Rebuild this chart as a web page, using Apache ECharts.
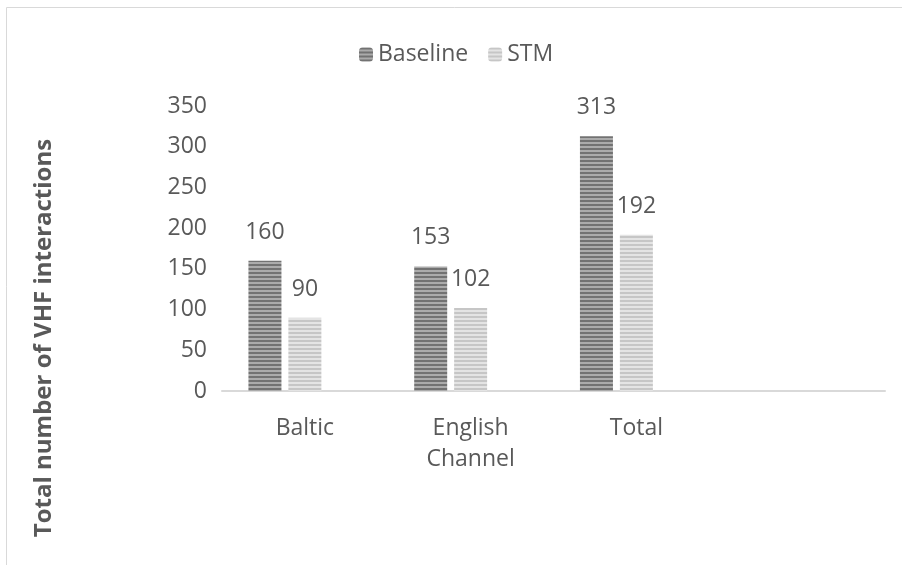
<!DOCTYPE html>
<html>
<head>
<meta charset="utf-8">
<script src="https://cdn.jsdelivr.net/npm/echarts@6/dist/echarts.min.js"></script>
<style>html,body{margin:0;padding:0;background:#fff}#c{width:902px;height:565px}</style>
</head>
<body>
<div id="c"></div>
<script>
const categories = ['Baltic', 'English\nChannel', 'Total', ''];
const baselineValues = [160, 153, 313, null];
const stmValues = [90, 102, 192, null];
const spacerValues = [null, null, null, null];
const seriesNames = ['Baseline', 'STM'];
const yTitle = 'Total number of VHF interactions';

function stripe(c1, c2) {
  const cv = document.createElement('canvas');
  cv.width = 4; cv.height = 4;
  const ctx = cv.getContext('2d');
  ctx.fillStyle = c1; ctx.fillRect(0, 0, 4, 2);
  ctx.fillStyle = c2; ctx.fillRect(0, 2, 4, 2);
  return { image: cv, repeat: 'repeat' };
}
const basePat = stripe('#727272', '#ababab');
const stmPat = stripe('#c6c6c6', '#e4e4e4');

const font = '"Open Sans", "Liberation Sans", sans-serif';
const fs = 23;
const chart = echarts.init(document.getElementById('c'), null, { renderer: 'canvas' });
const lbl = { show: true, position: 'top', distance: 17, color: '#595959', fontSize: fs, fontFamily: font };
chart.setOption({
  animation: false,
  graphic: [
    { type: 'rect', shape: { x: 6.5, y: 7.5, width: 1000, height: 1000 }, style: { fill: 'none', stroke: '#d9d9d9', lineWidth: 1 }, silent: true },
    { type: 'text', x: 44, y: 338, rotation: Math.PI / 2,
      style: { text: yTitle, fill: '#595959', font: 'bold 24px ' + font, align: 'center', verticalAlign: 'middle' } }
  ],
  legend: {
    data: seriesNames, top: 38, left: 354, itemWidth: 14, itemHeight: 14, itemGap: 20,
    textStyle: { color: '#595959', fontSize: fs, fontFamily: font }
  },
  grid: { left: 222, right: 17, top: 106, bottom: 174 },
  xAxis: {
    type: 'category', data: categories,
    axisLine: { lineStyle: { color: '#d9d9d9', width: 2 } },
    axisTick: { show: false },
    axisLabel: { color: '#595959', fontSize: fs, fontFamily: font, lineHeight: 31, margin: 22, interval: 0 }
  },
  yAxis: {
    type: 'value', min: 0, max: 350, interval: 50,
    axisLine: { show: false }, axisTick: { show: false }, splitLine: { show: false },
    axisLabel: { color: '#595959', fontSize: fs, fontFamily: font, margin: 15 }
  },
  series: [
    { name: 'Baseline', type: 'bar', data: baselineValues, barWidth: 33, barGap: '21%', itemStyle: { color: basePat }, label: lbl },
    { name: 'STM', type: 'bar', data: stmValues, barWidth: 33, barGap: '21%', itemStyle: { color: stmPat }, label: lbl },
    { name: 'spacer', type: 'bar', data: spacerValues, barWidth: 33, barGap: '21%', itemStyle: { color: 'transparent' } }
  ]
});
</script>
</body>
</html>
